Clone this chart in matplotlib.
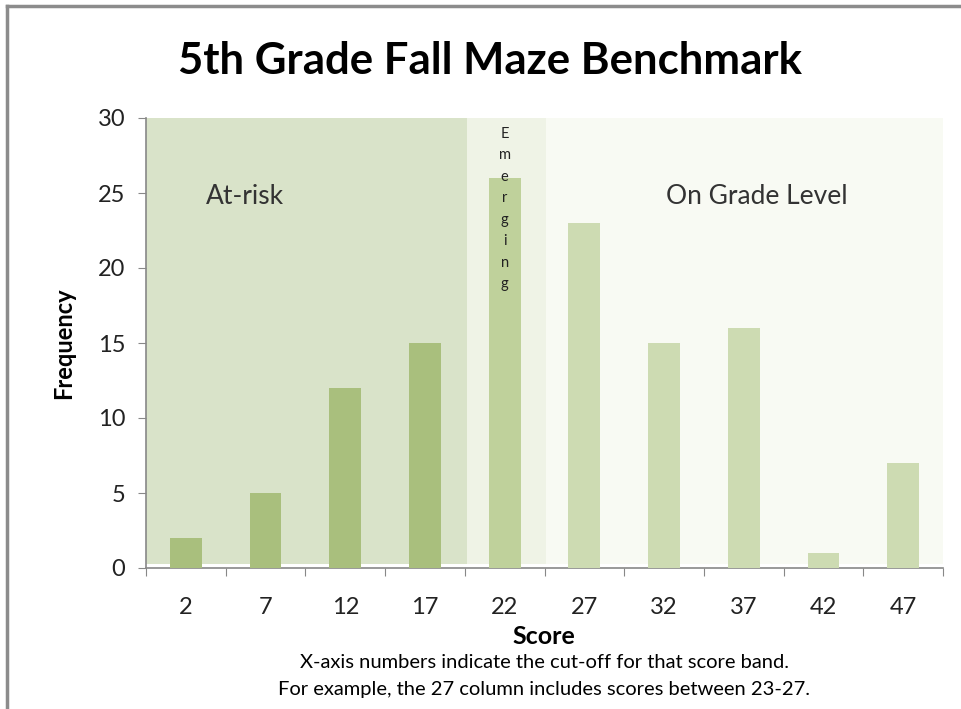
import matplotlib
matplotlib.use("Agg")
import matplotlib.pyplot as plt
from matplotlib.patches import Rectangle
from matplotlib.lines import Line2D

plt.rcParams['font.family'] = ['Lato', 'DejaVu Sans']

categories = ['2', '7', '12', '17', '22', '27', '32', '37', '42', '47']
frequency = [2, 5, 12, 15, 26, 23, 15, 16, 1, 7]
band_names = ['At-risk', 'Emerging', 'On Grade Level']
band_members = [['2', '7', '12', '17'], ['22'], ['27', '32', '37', '42', '47']]

band_colors = ['#D9E3C9', '#EFF3E6', '#F8FAF3']
bar_colors = ['#A9BF7D', '#BFD19B', '#CDDBB2']

fig = plt.figure(figsize=(9.62, 7.09), dpi=100)
ax = fig.add_axes([146/962, 1 - 568/709, (943-146)/962, (568-118)/709])

x = list(range(len(categories)))
colors = []
for c in categories:
    for bi, mem in enumerate(band_members):
        if c in mem:
            colors.append(bar_colors[bi])
ax.bar(x, frequency, width=0.4, color=colors, zorder=3)

# bands
starts = [-0.5, 3.53, 4.52]
ends = [3.53, 4.52, 9.5]
for s, e, col in zip(starts, ends, band_colors):
    ax.add_patch(Rectangle((s, 0.3), e - s, 29.7, facecolor=col, edgecolor='none', zorder=1))

ax.set_xlim(-0.5, 9.5)
ax.set_ylim(0, 30)
ax.set_yticks([0, 5, 10, 15, 20, 25, 30])
ax.set_xticks([i - 0.5 for i in range(len(categories) + 1)])
ax.set_xticklabels([])
ax.set_xticks(x, minor=True)
ax.set_xticklabels(categories, minor=True)
ax.tick_params(axis='x', which='major', direction='out', length=6, color='#888888')
ax.tick_params(axis='x', which='minor', length=0, pad=21, labelsize=17, labelcolor='#222222')
ax.tick_params(axis='y', direction='out', length=6, color='#888888', labelsize=17,
               labelcolor='#222222', pad=9)
for sp in ['top', 'right']:
    ax.spines[sp].set_visible(False)
for sp in ['left', 'bottom']:
    ax.spines[sp].set_color('#888888')
    ax.spines[sp].set_linewidth(1.2)
ax.set_facecolor('white')

ax.text(0.25, 24.8, band_names[0], fontsize=19, color='#333333', va='center', ha='left', zorder=4)
ax.text(7.17, 24.8, band_names[2], fontsize=19, color='#333333', va='center', ha='center', zorder=4)
ax.text(4.0, 29.4, '\n'.join(band_names[1]), fontsize=10.5, color='#222222', va='top',
        ha='center', linespacing=1.68, zorder=4)

ax.set_ylabel('Frequency', fontsize=17, fontweight='bold', labelpad=16)
fig.text(544/962, 1 - 636/709, 'Score', fontsize=18, fontweight='bold', ha='center', va='center')
fig.text(544/962, 1 - 662/709, 'X-axis numbers indicate the cut-off for that score band.',
         fontsize=14.5, ha='center', va='center')
fig.text(544/962, 1 - 689/709, 'For example, the 27 column includes scores between 23-27.',
         fontsize=14.5, ha='center', va='center')
fig.text(490/962, 1 - 61/709, '5th Grade Fall Maze Benchmark', fontsize=31.5, fontweight='bold',
         ha='center', va='center')

# figure border (top and left)
fig.add_artist(Line2D([7/962, 1], [1 - 6/709, 1 - 6/709], color='#8C8C8C', lw=2.5,
                      transform=fig.transFigure))
fig.add_artist(Line2D([7/962, 7/962], [0, 1 - 6/709], color='#8C8C8C', lw=2.5,
                      transform=fig.transFigure))

fig.savefig('out.png', dpi=100, facecolor='white')
